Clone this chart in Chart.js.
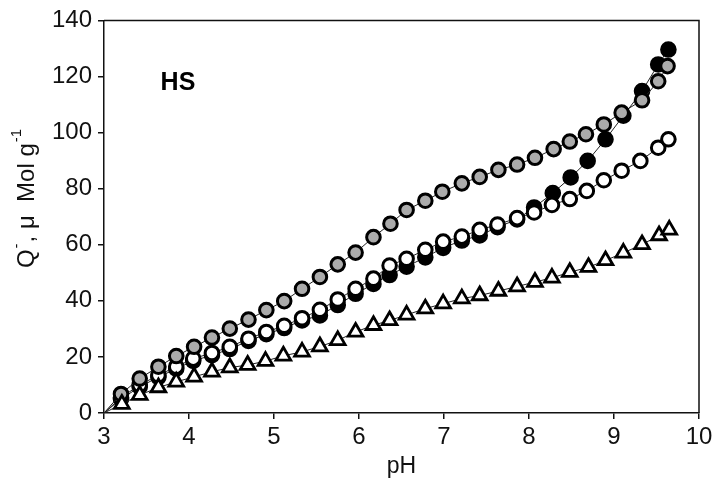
<!DOCTYPE html>
<html>
<head>
<meta charset="utf-8">
<script src="https://cdn.jsdelivr.net/npm/chart.js@4.4.1/dist/chart.umd.min.js"></script>
<style>
  html, body { margin: 0; padding: 0; background: #fff; }
  #wrap { width: 719px; height: 480px; }
</style>
</head>
<body>
<div id="wrap"><canvas id="c" width="719" height="480"></canvas></div>
<script>
// ---- data ----
const lineStartPH = 3.0;
const lineStartQ = 0;

const grayPH = [3.20,3.42,3.64,3.85,4.06,4.27,4.48,4.70,4.91,5.12,5.33,5.54,5.75,5.96,6.17,6.37,6.56,6.78,6.98,7.21,7.42,7.64,7.86,8.07,8.29,8.48,8.67,8.88,9.09,9.33,9.52,9.63];
const grayQ  = [6.8,12.3,16.5,20.3,23.6,26.9,30.1,33.3,36.7,39.9,44.3,48.5,53.0,57.2,62.7,67.5,72.4,75.7,78.9,81.9,84.2,86.7,88.6,91.0,94.1,96.8,99.4,102.9,107.1,111.5,118.3,123.7];

const openPH = [3.20,3.42,3.64,3.85,4.05,4.27,4.48,4.70,4.91,5.12,5.33,5.54,5.75,5.96,6.17,6.36,6.56,6.78,6.99,7.21,7.42,7.63,7.86,8.06,8.27,8.48,8.68,8.88,9.09,9.31,9.52,9.64];
const openQ  = [5.5,10.0,13.5,16.5,19.4,21.4,23.6,26.5,28.9,31.1,33.8,36.8,40.5,44.3,47.9,52.6,55.0,58.2,61.1,62.9,65.3,67.2,69.5,71.5,74.2,76.3,79.2,83.0,86.4,89.9,94.6,97.6];

const blackPH = [3.20,3.42,3.64,3.85,4.05,4.27,4.48,4.70,4.91,5.12,5.33,5.54,5.75,5.96,6.17,6.36,6.56,6.78,6.99,7.21,7.42,7.63,7.86,8.06,8.28,8.49,8.69,8.90,9.11,9.33,9.52,9.64];
const blackQ  = [5.0,9.3,12.8,15.8,18.6,20.6,22.8,25.7,28.1,30.3,33.0,34.8,38.5,42.5,46.0,49.2,52.2,55.5,58.9,61.5,63.3,66.3,69.0,73.3,78.4,84.0,89.9,97.6,106.0,114.8,124.3,129.6];

const triPH = [3.21,3.42,3.64,3.85,4.06,4.27,4.48,4.69,4.90,5.11,5.33,5.54,5.75,5.96,6.17,6.36,6.56,6.78,6.99,7.21,7.42,7.64,7.86,8.07,8.27,8.48,8.70,8.90,9.11,9.33,9.53,9.65];
const triQ  = [3.2,6.4,9.1,11.1,12.9,14.7,16.2,17.1,18.5,20.4,21.8,23.7,25.9,28.9,31.3,33.0,35.0,37.2,39.0,40.8,41.9,43.5,45.1,46.7,48.2,50.2,52.0,54.4,57.1,60.1,63.3,65.3];

const xTicks = [3,4,5,6,7,8,9,10];
const yTicks = [0,20,40,60,80,100,120,140];
const xTitle = 'pH';
// y title pieces: [text, isSuperscript]
const yTitleParts = [['Q', false], ['-', true], [', \u03BC  Mol g', false], ['-1', true]];
const panelLabel = 'HS';
const panelLabelPH = 3.87;
const panelLabelQ = 117.5;

// ---- build datasets ----
function pts(xs, ys) {
  const out = [{x: lineStartPH, y: lineStartQ}];
  xs.forEach((x, i) => out.push({x: x, y: ys[i]}));
  return out;
}
function radii(n, r) {
  const a = [0];
  for (let i = 0; i < n; i++) a.push(r);
  return a;
}

const FONT = "'Liberation Sans', Arial, Helvetica, sans-serif";

const frame = {
  id: 'frame',
  afterDraw(chart) {
    const {ctx, chartArea: a} = chart;
    ctx.save();
    ctx.strokeStyle = '#111';
    ctx.lineWidth = 1.5;
    ctx.beginPath();
    ctx.moveTo(a.left, a.top);
    ctx.lineTo(a.right, a.top);
    ctx.lineTo(a.right, a.bottom);
    ctx.stroke();
    // panel label
    const xs = chart.scales.x, ys = chart.scales.y;
    ctx.fillStyle = '#000';
    ctx.font = 'bold 25px ' + FONT;
    ctx.textAlign = 'center';
    ctx.textBaseline = 'middle';
    ctx.fillText(panelLabel, xs.getPixelForValue(panelLabelPH), ys.getPixelForValue(panelLabelQ));

    // rotated y-axis title with superscripts
    const mainFont = '24px ' + FONT, supFont = '15px ' + FONT;
    let total = 0;
    yTitleParts.forEach(([t, sup]) => { ctx.font = sup ? supFont : mainFont; total += ctx.measureText(t).width + (sup ? 2 : 0); });
    const cx = 27, cy = 198;
    ctx.translate(cx, cy);
    ctx.rotate(-Math.PI / 2);
    ctx.textAlign = 'left';
    ctx.textBaseline = 'middle';
    ctx.fillStyle = '#111';
    let xPos = -total / 2;
    yTitleParts.forEach(([t, sup]) => {
      ctx.font = sup ? supFont : mainFont;
      ctx.fillText(t, xPos + (sup ? 1 : 0), sup ? -10 : 0);
      xPos += ctx.measureText(t).width + (sup ? 2 : 0);
    });
    ctx.restore();
  }
};

const common = {
  showLine: true,
  borderColor: '#222',
  borderWidth: 1,
  pointBorderColor: '#000',
  pointBorderWidth: 3,
  tension: 0
};

new Chart(document.getElementById('c'), {
  type: 'scatter',
  data: {
    datasets: [
      Object.assign({}, common, {
        label: 'triangles', data: pts(triPH, triQ),
        pointStyle: 'triangle', pointRadius: radii(triPH.length, 8.5),
        pointBackgroundColor: '#fff', pointBorderWidth: 2.8
      }),
      Object.assign({}, common, {
        label: 'gray', data: pts(grayPH, grayQ),
        pointStyle: 'circle', pointRadius: radii(grayPH.length, 6.8),
        pointBackgroundColor: '#ababab'
      }),
      Object.assign({}, common, {
        label: 'open', data: pts(openPH, openQ),
        pointStyle: 'circle', pointRadius: radii(openPH.length, 6.8),
        pointBackgroundColor: '#fff'
      }),
      Object.assign({}, common, {
        label: 'black', data: pts(blackPH, blackQ),
        pointStyle: 'circle', pointRadius: radii(blackPH.length, 6.8),
        pointBackgroundColor: '#000'
      })
    ]
  },
  options: {
    responsive: false,
    animation: false,
    devicePixelRatio: 1,
    layout: { padding: { left: 0, top: 19, right: 20, bottom: 0 } },
    plugins: { legend: { display: false }, tooltip: { enabled: false } },
    scales: {
      x: {
        type: 'linear', min: 3, max: 10,
        afterBuildTicks: s => { s.ticks = xTicks.map(v => ({value: v})); },
        afterFit: s => { s.height = 67; },
        ticks: { color: '#111', font: { family: FONT, size: 24 }, padding: 4, maxRotation: 0 },
        grid: { drawOnChartArea: false, drawTicks: true, tickLength: 6, color: '#111', lineWidth: 1.5 },
        border: { display: true, color: '#111', width: 1.5 },
        title: { display: true, text: xTitle, color: '#111', font: { family: FONT, size: 23 }, padding: { top: -7, bottom: 0 } }
      },
      y: {
        type: 'linear', min: 0, max: 140,
        afterBuildTicks: s => { s.ticks = yTicks.map(v => ({value: v})); },
        afterFit: s => { s.width = 104; },
        ticks: { color: '#111', font: { family: FONT, size: 24 }, padding: 6 },
        grid: { drawOnChartArea: false, drawTicks: true, tickLength: 6, color: '#111', lineWidth: 1.5 },
        border: { display: true, color: '#111', width: 1.5 },
        title: { display: false }
      }
    }
  },
  plugins: [frame]
});
</script>
</body>
</html>
